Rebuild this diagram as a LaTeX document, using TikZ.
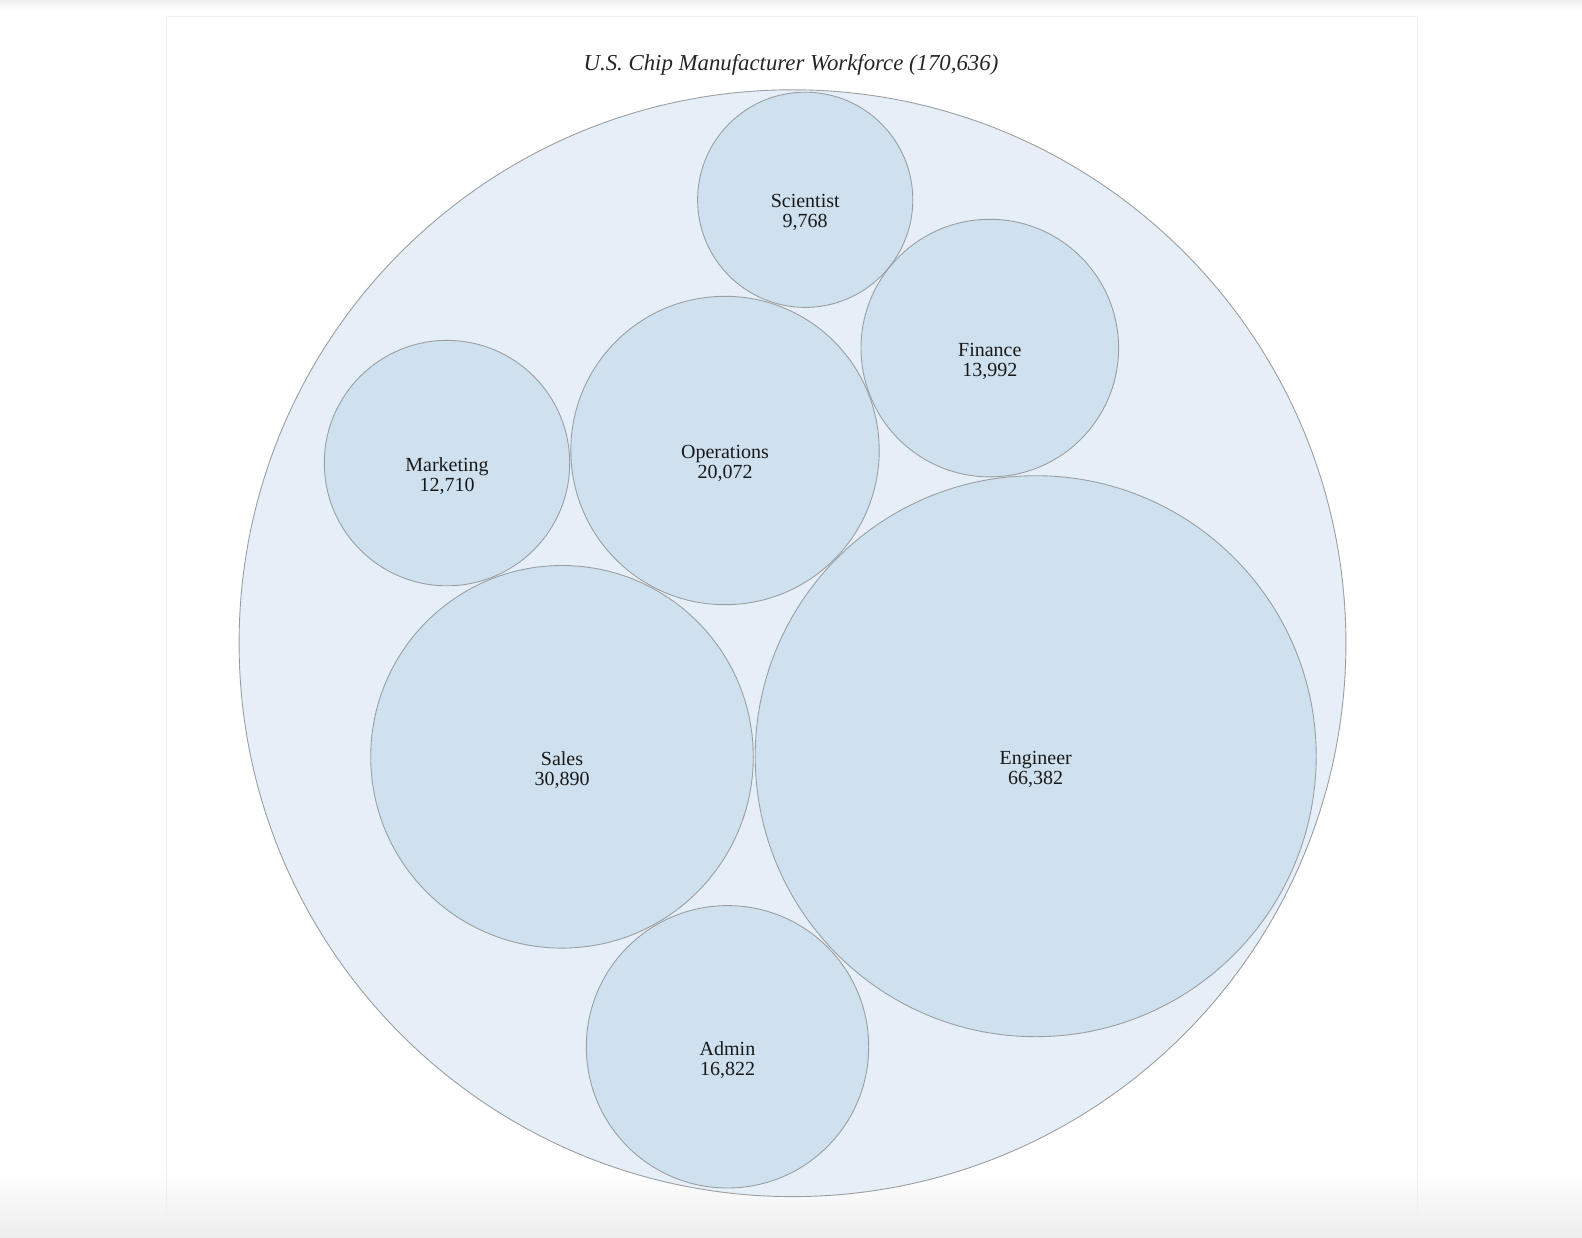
\documentclass[tikz,border=0pt]{standalone}
\usepackage{fontspec}
\setmainfont{Liberation Serif}
\definecolor{outerfill}{HTML}{E6EFF7}
\definecolor{innerfill}{HTML}{CFE1EF}
\definecolor{edge}{HTML}{9A9FA3}
\definecolor{panel}{HTML}{F0F0F0}
\tikzset{
  outerbub/.style={circle, draw=edge, fill=outerfill, line width=0.9pt, inner sep=0pt},
  bub/.style={circle, draw=edge, fill=innerfill, line width=0.9pt, inner sep=0pt},
  lab/.style={align=center, inner sep=0pt, text=black!90, font=\fontsize{20}{20}\selectfont},
  ttl/.style={inner sep=0pt, anchor=base, text=black!85, font=\fontsize{22.8}{24}\selectfont\itshape}
}
\begin{document}
\begin{tikzpicture}[x=1pt,y=-1pt]
\useasboundingbox (0,0) rectangle (1582,1238);
\fill[white] (0,0) rectangle (1582,1238);
\shade[top color=black!6, bottom color=white] (0,0) rectangle (1582,10);
\shade[top color=white, bottom color=black!7] (0,1170) rectangle (1582,1238);
\draw[panel, line width=1pt] (166,1238) -- (166,17) -- (1417,17) -- (1417,1238);
\node[ttl] (title) at (791,71) {U.S. Chip Manufacturer Workforce (170,636)};
\node[outerbub, minimum size=1106.8pt] (all) at (792.5,643.2) {};
\node[bub, minimum size=215.2pt] (sci) at (805.2,199.8) {};
\node[bub, minimum size=257.6pt] (fin) at (989.8,348.1) {};
\node[bub, minimum size=308.4pt] (ops) at (725,450.5) {};
\node[bub, minimum size=245.4pt] (mkt) at (447,463.1) {};
\node[bub, minimum size=382.6pt] (sal) at (562,756.8) {};
\node[bub, minimum size=561pt] (eng) at (1035.7,756.2) {};
\node[bub, minimum size=282.4pt] (adm) at (727.5,1046.8) {};
\node[lab] (scil) at ([yshift=-13pt]sci.center) {Scientist\\9,768};
\node[lab] (finl) at ([yshift=-13pt]fin.center) {Finance\\13,992};
\node[lab] (opsl) at ([yshift=-13pt]ops.center) {Operations\\20,072};
\node[lab] (mktl) at ([yshift=-13pt]mkt.center) {Marketing\\12,710};
\node[lab] (sall) at ([yshift=-13pt]sal.center) {Sales\\30,890};
\node[lab] (engl) at ([yshift=-13pt]eng.center) {Engineer\\66,382};
\node[lab] (adml) at ([yshift=-13pt]adm.center) {Admin\\16,822};
\end{tikzpicture}
\end{document}
